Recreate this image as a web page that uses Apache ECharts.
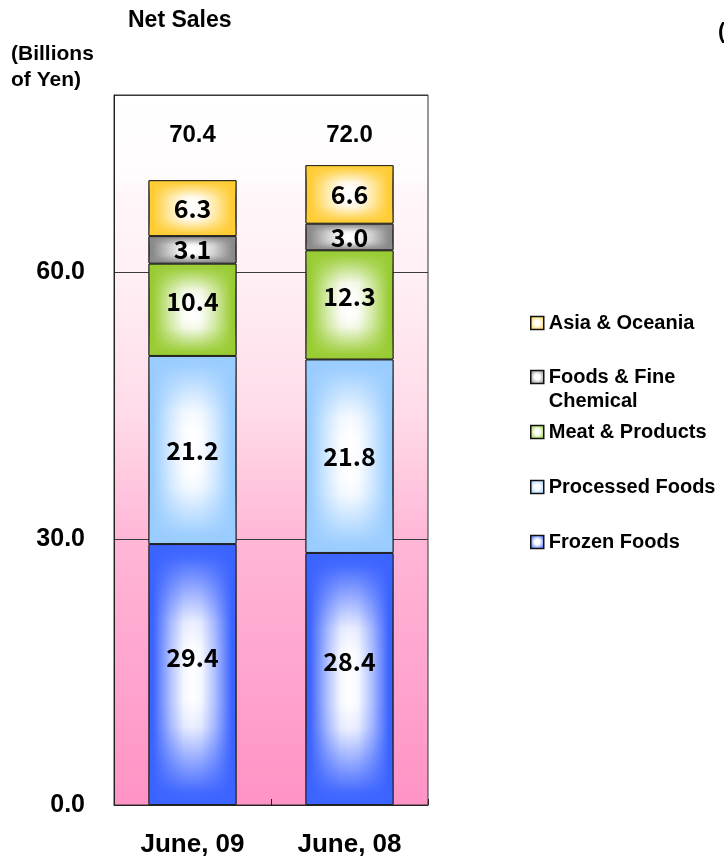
<!DOCTYPE html>
<html>
<head>
<meta charset="utf-8">
<script src="https://cdn.jsdelivr.net/npm/echarts@6/dist/echarts.min.js"></script>
<style>
html, body { margin: 0; padding: 0; background: #fff; }
#main { width: 724px; height: 861px; }
</style>
</head>
<body>
<div id="main"></div>
<script>
// data
var categories = ['June, 09', 'June, 08'];
var segmentNames = ['Frozen Foods', 'Processed Foods', 'Meat & Products', 'Foods & Fine Chemical', 'Asia & Oceania'];
var frozenFoods = [29.4, 28.4];
var processedFoods = [21.2, 21.8];
var meatProducts = [10.4, 12.3];
var fineChemical = [3.1, 3.0];
var asiaOceania = [6.3, 6.6];
var totals = [70.4, 72.0];

var segmentValues = [frozenFoods, processedFoods, meatProducts, fineChemical, asiaOceania];
var segmentColors = ['#3b63ff', '#99ccff', '#99cc33', '#8a8a8a', '#ffcc33'];
var labelLift = [-17, 0, -8, 0, 0];
var legendCenters = [542, 487, 432, 377, 323];
var TOTAL_Y = 75.4;
var FONT = 'Liberation Sans';

function rgba(hex, a) {
    var n = parseInt(hex.slice(1), 16);
    return 'rgba(' + (n >> 16) + ',' + ((n >> 8) & 255) + ',' + (n & 255) + ',' + a + ')';
}

// blend a colour towards white
function tint(hex, t) {
    var n = parseInt(hex.slice(1), 16);
    var r = n >> 16, g = (n >> 8) & 255, b = n & 255;
    return 'rgb(' + Math.round(r + (255 - r) * t) + ',' + Math.round(g + (255 - g) * t) + ',' + Math.round(b + (255 - b) * t) + ')';
}

// horizontal white core
function sideGrad(c) {
    return new echarts.graphic.LinearGradient(0, 0, 1, 0, [
        {offset: 0, color: c},
        {offset: 0.05, color: c},
        {offset: 0.25, color: tint(c, 0.6)},
        {offset: 0.4, color: tint(c, 0.95)},
        {offset: 0.5, color: '#ffffff'},
        {offset: 0.6, color: tint(c, 0.95)},
        {offset: 0.75, color: tint(c, 0.6)},
        {offset: 0.95, color: c},
        {offset: 1, color: c}
    ]);
}

// top / bottom fade, laid over the side gradient
function capGrad(c) {
    return new echarts.graphic.LinearGradient(0, 0, 0, 1, [
        {offset: 0, color: rgba(c, 1)},
        {offset: 0.05, color: rgba(c, 0.95)},
        {offset: 0.3, color: rgba(c, 0.1)},
        {offset: 0.4, color: rgba(c, 0)},
        {offset: 0.6, color: rgba(c, 0)},
        {offset: 0.7, color: rgba(c, 0.1)},
        {offset: 0.95, color: rgba(c, 0.95)},
        {offset: 1, color: rgba(c, 1)}
    ]);
}

function iconGrad(c) {
    return new echarts.graphic.RadialGradient(0.5, 0.5, 0.6, [
        {offset: 0, color: '#ffffff'},
        {offset: 0.3, color: '#ffffff'},
        {offset: 1, color: c}
    ]);
}

var series = [];
for (var i = 0; i < segmentNames.length; i++) {
    series.push({
        name: segmentNames[i],
        type: 'bar',
        stack: 'base',
        barWidth: 88,
        z: 2,
        silent: true,
        itemStyle: {color: sideGrad(segmentColors[i]), borderColor: '#222', borderWidth: 1},
        data: segmentValues[i]
    });
}
for (var j = 0; j < segmentNames.length; j++) {
    series.push({
        name: segmentNames[j],
        type: 'bar',
        stack: 'glow',
        barWidth: 88,
        barGap: '-100%',
        z: 3,
        silent: true,
        itemStyle: {color: capGrad(segmentColors[j]), borderColor: '#222', borderWidth: 1},
        label: {
            show: true,
            position: 'inside',
            offset: [0, labelLift[j]],
            color: '#000',
            fontFamily: 'Noto Sans CJK JP',
            fontWeight: 'bold',
            fontSize: 25,
            formatter: function (p) { return p.value.toFixed(1); }
        },
        data: segmentValues[j]
    });
}
series.push({
    name: 'total',
    type: 'scatter',
    symbolSize: 0,
    silent: true,
    z: 5,
    itemStyle: {opacity: 1},
    label: {
        show: true,
        position: 'inside',
        color: '#000',
        fontFamily: FONT,
        fontWeight: 'bold',
        fontSize: 24,
        formatter: function (p) { return totals[p.dataIndex].toFixed(1); }
    },
    data: categories.map(function (c, k) { return [k, TOTAL_Y]; })
});

// one legend per entry so the spacing can follow the picture
var legends = [];
for (var m = 0; m < segmentNames.length; m++) {
    var twoLines = segmentNames[m] === 'Foods & Fine Chemical';
    legends.push({
        left: 530,
        top: twoLines ? legendCenters[m] - 36 : legendCenters[m] - 12,
        padding: 0,
        orient: 'vertical',
        selectedMode: false,
        icon: 'rect',
        itemWidth: 13,
        itemHeight: 13,
        formatter: function (name) {
            // blank first line keeps the icon level with "Foods & Fine"
            return name === 'Foods & Fine Chemical' ? ' \nFoods & Fine\nChemical' : name;
        },
        textStyle: {
            color: '#000',
            fontFamily: FONT,
            fontWeight: 'bold',
            fontSize: 20,
            lineHeight: 24
        },
        data: [{
            name: segmentNames[m],
            itemStyle: {color: iconGrad(segmentColors[m]), borderColor: '#111', borderWidth: 1.5}
        }]
    });
}

var chart = echarts.init(document.getElementById('main'));
var option = {
    animation: false,
    title: [{
        text: 'Net Sales', left: 128, top: 9, padding: 0,
        textStyle: {fontFamily: FONT, fontWeight: 'bold', fontSize: 23, color: '#000'}
    }, {
        text: '(Billions\nof Yen)', left: 11, top: 41, padding: 0,
        textStyle: {fontFamily: FONT, fontWeight: 'bold', fontSize: 21, lineHeight: 26, color: '#000'}
    }, {
        text: '(', left: 718, top: 21, padding: 0,
        textStyle: {fontFamily: FONT, fontWeight: 'bold', fontSize: 22, color: '#000'}
    }],
    legend: legends,
    grid: {
        left: 114, right: 296, top: 95, bottom: 56,
        show: true,
        borderColor: '#333',
        borderWidth: 1,
        backgroundColor: new echarts.graphic.LinearGradient(0, 0, 0, 1, [
            {offset: 0, color: '#ffffff'},
            {offset: 0.12, color: '#fffcfd'},
            {offset: 0.13, color: '#fff7fa'},
            {offset: 0.25, color: '#fff0f5'},
            {offset: 0.45, color: '#ffdbe9'},
            {offset: 0.63, color: '#ffb6d6'},
            {offset: 1, color: '#ff93c5'}
        ])
    },
    xAxis: {
        type: 'category',
        data: categories,
        axisLine: {lineStyle: {color: '#222'}},
        axisTick: {show: true, inside: true, length: 6, lineStyle: {color: '#222'}},
        axisLabel: {margin: 27, color: '#000', fontFamily: FONT, fontWeight: 'bold', fontSize: 26}
    },
    yAxis: {
        type: 'value',
        min: 0,
        max: 80,
        interval: 30,
        axisLine: {show: true, lineStyle: {color: '#222'}},
        axisTick: {show: false},
        splitLine: {lineStyle: {color: '#3a3a3a', width: 1}},
        axisLabel: {
            margin: 29, color: '#000', fontFamily: FONT, fontWeight: 'bold', fontSize: 25,
            formatter: function (v) { return v % 30 === 0 ? v.toFixed(1) : ''; }
        }
    },
    series: series
};
chart.setOption(option);
</script>
</body>
</html>
